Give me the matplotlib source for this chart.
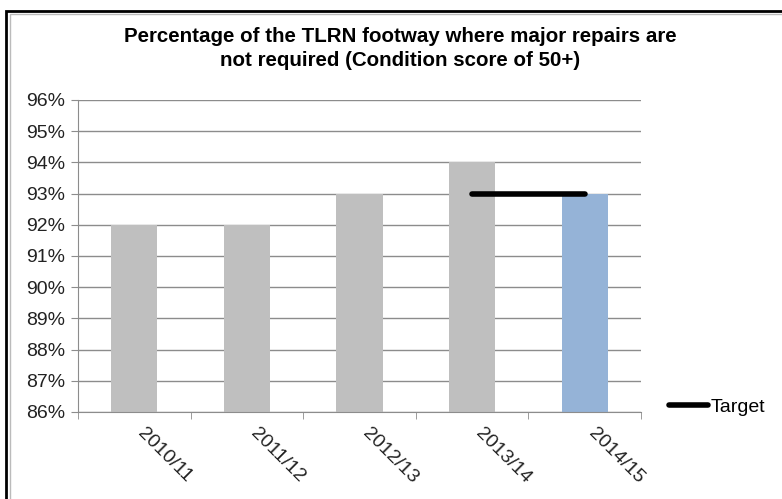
import matplotlib
matplotlib.use("Agg")
import matplotlib.pyplot as plt
from matplotlib.patches import Rectangle
from matplotlib.ticker import FixedLocator

plt.rcParams["font.family"] = ["Liberation Sans", "DejaVu Sans"]

# data
years = ["2010/11", "2011/12", "2012/13", "2013/14", "2014/15"]
values = [92, 92, 93, 94, 93]
bar_colors = ["#BFBFBF", "#BFBFBF", "#BFBFBF", "#BFBFBF", "#95B3D7"]
target_years = ["2013/14", "2014/15"]
target_values = [93, 93]
yticks = [86, 87, 88, 89, 90, 91, 92, 93, 94, 95, 96]

W, H = 782, 499
fig = plt.figure(figsize=(W / 100, H / 100), dpi=100)

# outer chart frame (black line + grey inner line)
fig.patches.append(Rectangle((6 / W, -0.1), 2.0, 1.1 - 11 / H, transform=fig.transFigure,
                             fill=False, edgecolor="black", linewidth=2.0))
fig.patches.append(Rectangle((10 / W, -0.1), 2.0, 1.1 - 14 / H, transform=fig.transFigure,
                             fill=False, edgecolor="#BBBBBB", linewidth=1.0))

ax = fig.add_axes([78 / W, (H - 412) / H, (641 - 78) / W, (412 - 100) / H])

x = list(range(len(years)))
ax.bar(x, values, width=0.41, color=bar_colors, zorder=2)
tx = [years.index(t) for t in target_years]
ax.plot(tx, target_values, color="black", linewidth=4, solid_capstyle="round",
        zorder=3, label="Target")

ax.set_ylim(86, 96)
ax.set_xlim(-0.5, len(years) - 0.5)
ax.set_yticks(yticks)
ax.set_yticklabels([f"{v}%" for v in yticks], fontsize=14, color="#222222")
ax.yaxis.grid(True, color="#8C8C8C", linewidth=1.0, zorder=0)
ax.set_axisbelow(True)

ax.set_xticks(x)
ax.set_xticklabels(years, rotation=-45, ha="left", va="top", fontsize=14, color="#222222")
ax.tick_params(axis="x", length=0, pad=9)
ax.xaxis.set_minor_locator(FixedLocator([i - 0.5 for i in range(len(years) + 1)]))
ax.tick_params(axis="x", which="minor", length=5, color="#8C8C8C", direction="out")
ax.tick_params(axis="y", length=5, color="#8C8C8C", direction="out", pad=4)

for s in ["top", "right"]:
    ax.spines[s].set_visible(False)
for s in ["left", "bottom"]:
    ax.spines[s].set_color("#8C8C8C")

fig.text(400 / W, 1 - 37 / H, "Percentage of the TLRN footway where major repairs are",
         ha="center", va="center", fontsize=14.8, fontweight="bold")
fig.text(400 / W, 1 - 60 / H, "not required (Condition score of 50+)",
         ha="center", va="center", fontsize=14.8, fontweight="bold")

ax.legend(loc="center left", bbox_to_anchor=(669 / W, 1 - 407 / H),
          bbox_transform=fig.transFigure, frameon=False, fontsize=14,
          handlelength=2.0, handletextpad=0.15, borderpad=0, borderaxespad=0)

fig.savefig("out.png", dpi=100, facecolor="white")
